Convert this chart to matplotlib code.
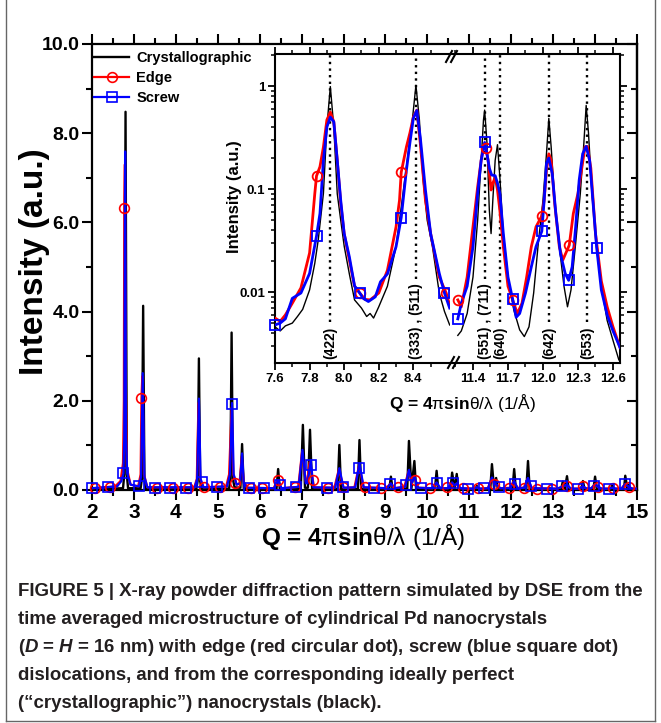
import numpy as np
import matplotlib
matplotlib.use("Agg")
import matplotlib.pyplot as plt
from matplotlib.lines import Line2D
from matplotlib.ticker import MultipleLocator, FixedLocator, FuncFormatter, NullFormatter, LogLocator

plt.rcParams['font.family'] = ['Liberation Sans', 'DejaVu Sans']
plt.rcParams['font.weight'] = 'bold'
plt.rcParams['mathtext.fontset'] = 'custom'
plt.rcParams['mathtext.rm'] = 'Liberation Sans:regular'
plt.rcParams['mathtext.it'] = 'Liberation Sans:italic:bold'
plt.rcParams['mathtext.bf'] = 'Liberation Sans:bold'

# ---------------- main pattern data ----------------
cryst_q = [2.00, 2.74, 2.77, 2.80, 2.83, 2.86, 3.16, 3.19, 3.22, 3.25, 3.28, 4.49, 4.52, 4.55, 4.58, 4.61,
           5.27, 5.30, 5.33, 5.36, 5.40, 5.54, 5.58, 5.62, 6.40, 6.44, 6.48, 6.98, 7.03, 7.08, 7.15, 7.20, 7.25,
           7.86, 7.90, 7.94, 8.34, 8.38, 8.42, 9.09, 9.13, 9.17, 9.52, 9.56, 9.62, 9.69, 9.73, 10.18, 10.22, 10.26,
           10.55, 10.59, 10.65, 10.70, 10.74, 11.15, 11.18, 11.21, 11.50, 11.54, 11.59, 11.64, 11.68, 12.03, 12.07,
           12.11, 12.36, 12.40, 12.44, 12.88, 12.92, 12.96, 13.19, 13.23, 13.28, 13.33, 13.37, 13.67, 13.71, 13.75,
           13.96, 14.00, 14.04, 14.08, 14.12, 14.37, 14.41, 14.45, 14.69, 14.72, 14.77, 14.80, 14.84, 15.00]
cryst_i = [0.02, 0.04, 0.35, 8.48, 0.35, 0.04, 0.04, 0.25, 4.13, 0.25, 0.03, 0.03, 0.20, 2.95, 0.20, 0.03,
           0.03, 0.25, 3.53, 0.25, 0.06, 0.05, 1.03, 0.04, 0.02, 0.47, 0.02, 0.03, 1.46, 0.05, 0.05, 1.35, 0.03,
           0.02, 1.01, 0.02, 0.02, 1.12, 0.02, 0.02, 0.30, 0.02, 0.03, 1.10, 0.04, 0.65, 0.03, 0.02, 0.43, 0.02,
           0.02, 0.39, 0.03, 0.36, 0.02, 0.02, 0.09, 0.02, 0.02, 0.58, 0.04, 0.27, 0.02, 0.02, 0.47,
           0.02, 0.02, 0.65, 0.02, 0.01, 0.05, 0.01, 0.02, 0.19, 0.03, 0.31, 0.02, 0.02, 0.20, 0.02,
           0.02, 0.30, 0.03, 0.10, 0.02, 0.02, 0.10, 0.02, 0.02, 0.32, 0.03, 0.12, 0.02, 0.02]

edge_q = [2.00, 2.55, 2.68, 2.74, 2.76, 2.77, 2.785, 2.80, 2.83, 2.92, 3.10, 3.16, 3.18, 3.20, 3.24, 3.32,
          4.44, 4.50, 4.54, 4.58, 4.66, 5.20, 5.27, 5.33, 5.37, 5.45, 5.52, 5.57, 5.62, 5.72, 6.33, 6.43, 6.52,
          6.92, 7.01, 7.10, 7.13, 7.19, 7.30, 7.78, 7.89, 8.00, 8.26, 8.37, 8.48, 9.01, 9.12, 9.21, 9.45, 9.55,
          9.63, 9.68, 9.78, 10.12, 10.21, 10.31, 10.49, 10.58, 10.65, 10.69, 10.79, 11.10, 11.17, 11.26, 11.44,
          11.53, 11.60, 11.65, 11.74, 11.97, 12.06, 12.15, 12.30, 12.39, 12.49, 13.10, 13.22, 13.32, 13.42,
          13.62, 13.70, 13.80, 13.91, 13.99, 14.08, 14.16, 14.32, 14.40, 14.50, 14.63, 14.71, 14.80, 14.89, 15.00]
edge_i = [0.04, 0.08, 0.20, 0.60, 2.00, 6.33, 7.30, 3.00, 0.50, 0.12, 0.08, 0.35, 2.06, 2.55, 0.35, 0.06,
          0.06, 0.25, 1.95, 0.25, 0.06, 0.08, 0.35, 1.85, 0.35, 0.12, 0.15, 0.75, 0.18, 0.05, 0.04, 0.22, 0.04,
          0.07, 0.85, 0.18, 0.18, 0.62, 0.06, 0.05, 0.47, 0.05, 0.06, 0.55, 0.06, 0.04, 0.14, 0.04, 0.07, 0.42,
          0.17, 0.30, 0.05, 0.04, 0.16, 0.04, 0.04, 0.16, 0.10, 0.14, 0.04, 0.03, 0.06, 0.03, 0.04,
          0.25, 0.13, 0.11, 0.04, 0.05, 0.20, 0.05, 0.05, 0.25, 0.04, 0.03, 0.08, 0.11, 0.03,
          0.03, 0.08, 0.03, 0.04, 0.12, 0.06, 0.03, 0.03, 0.05, 0.03, 0.03, 0.13, 0.07, 0.03, 0.03]

screw_q = [2.00, 2.60, 2.70, 2.75, 2.77, 2.79, 2.81, 2.84, 2.92, 3.12, 3.17, 3.21, 3.25, 3.32, 4.45, 4.51,
           4.55, 4.59, 4.66, 5.22, 5.29, 5.34, 5.38, 5.45, 5.53, 5.58, 5.62, 5.70, 6.35, 6.44, 6.52, 6.93, 7.02,
           7.10, 7.14, 7.22, 7.28, 7.80, 7.90, 8.00, 8.28, 8.38, 8.48, 9.03, 9.13, 9.21, 9.47, 9.56, 9.63, 9.69,
           9.78, 10.13, 10.22, 10.31, 10.50, 10.59, 10.65, 10.70, 10.79, 11.10, 11.18, 11.26, 11.45, 11.54, 11.60,
           11.65, 11.74, 11.98, 12.07, 12.15, 12.31, 12.40, 12.49, 13.10, 13.23, 13.33, 13.42, 13.62, 13.71, 13.80,
           13.91, 14.00, 14.08, 14.16, 14.32, 14.41, 14.50, 14.63, 14.72, 14.80, 14.89, 15.00]
screw_i = [0.04, 0.08, 0.20, 0.37, 1.20, 7.59, 1.20, 0.37, 0.12, 0.08, 0.30, 2.62, 0.30, 0.06, 0.06, 0.25,
           2.05, 0.25, 0.06, 0.08, 0.35, 1.95, 0.35, 0.12, 0.15, 0.82, 0.15, 0.05, 0.04, 0.22, 0.04, 0.07, 0.90,
           0.15, 0.15, 0.66, 0.06, 0.05, 0.49, 0.05, 0.06, 0.60, 0.06, 0.04, 0.15, 0.04, 0.07, 0.45, 0.15, 0.30,
           0.05, 0.04, 0.17, 0.04, 0.04, 0.17, 0.10, 0.15, 0.04, 0.03, 0.06, 0.03, 0.04, 0.28, 0.15,
           0.12, 0.04, 0.04, 0.20, 0.04, 0.05, 0.27, 0.04, 0.03, 0.08, 0.12, 0.03, 0.03, 0.08, 0.03,
           0.04, 0.13, 0.06, 0.03, 0.03, 0.05, 0.03, 0.03, 0.14, 0.07, 0.03, 0.03]

edge_mark_q = [2.06, 2.43, 2.77, 3.18, 3.55, 3.93, 4.30, 4.68, 5.05, 5.42, 5.79, 6.06, 6.43, 6.84, 7.27, 7.62,
               7.98, 8.52, 8.90, 9.30, 9.71, 10.07, 10.47, 10.84, 11.21, 11.58, 11.95, 12.30, 12.62, 12.97,
               13.33, 13.70, 14.06, 14.43, 14.80]
edge_mark_i = [0.05, 0.07, 6.33, 2.06, 0.05, 0.05, 0.05, 0.06, 0.06, 0.15, 0.05, 0.04, 0.22, 0.07, 0.22, 0.05,
               0.06, 0.06, 0.04, 0.06, 0.22, 0.05, 0.06, 0.05, 0.04, 0.14, 0.05, 0.05, 0.03, 0.03,
               0.10, 0.08, 0.06, 0.04, 0.07]
screw_mark_q = [2.00, 2.37, 2.75, 3.12, 3.50, 3.87, 4.24, 4.62, 4.99, 5.34, 5.74, 6.11, 6.49, 6.86, 7.23, 7.61,
                7.98, 8.36, 8.73, 9.11, 9.48, 9.85, 10.23, 10.60, 10.98, 11.35, 11.72, 12.10, 12.47, 12.85,
                13.22, 13.59, 13.97, 14.34, 14.72]
screw_mark_i = [0.04, 0.06, 0.37, 0.08, 0.04, 0.04, 0.05, 0.17, 0.06, 1.93, 0.05, 0.04, 0.11, 0.06, 0.56, 0.05,
                0.06, 0.49, 0.05, 0.14, 0.11, 0.05, 0.16, 0.16, 0.03, 0.04, 0.06, 0.14, 0.09, 0.03,
                0.08, 0.03, 0.10, 0.03, 0.14]

# ---------------- inset data (log scale) ----------------
in_cryst_q_lo = [7.60, 7.63, 7.66, 7.70, 7.73, 7.76, 7.80, 7.83, 7.85, 7.88, 7.90, 7.92, 7.94, 7.96, 7.98, 8.00,
                 8.03, 8.06, 8.10, 8.13, 8.15, 8.17, 8.20, 8.25, 8.30, 8.33, 8.36, 8.39, 8.415, 8.435, 8.455,
                 8.48, 8.51, 8.55, 8.58, 8.61]
in_cryst_i_lo = [0.0046, 0.0042, 0.0047, 0.0050, 0.0058, 0.0068, 0.0105, 0.019, 0.032, 0.091, 0.40, 0.99, 0.40,
                 0.09, 0.05, 0.028, 0.015, 0.0084, 0.0070, 0.0058, 0.0062, 0.0056, 0.0072, 0.0114, 0.0276,
                 0.067, 0.165, 0.40, 1.02, 0.47, 0.13, 0.05, 0.028, 0.0098, 0.0065, 0.0048]
in_edge_q_lo = [7.60, 7.63, 7.66, 7.70, 7.75, 7.80, 7.83, 7.84, 7.86, 7.88, 7.90, 7.92, 7.94, 7.96, 7.98, 8.00,
                8.03, 8.06, 8.09, 8.12, 8.15, 8.20, 8.25, 8.30, 8.32, 8.33, 8.36, 8.38, 8.40, 8.42, 8.44, 8.47,
                8.50, 8.55, 8.59, 8.61]
in_edge_i_lo = [0.0056, 0.0052, 0.0060, 0.0078, 0.011, 0.024, 0.09, 0.134, 0.165, 0.257, 0.47, 0.56, 0.45,
                0.19, 0.073, 0.037, 0.0205, 0.0114, 0.0098, 0.0085, 0.0084, 0.0098, 0.0163, 0.043, 0.078,
                0.146, 0.257, 0.35, 0.50, 0.585, 0.28, 0.078, 0.037, 0.014, 0.0098, 0.0075]
in_screw_q_lo = [7.60, 7.63, 7.66, 7.70, 7.75, 7.80, 7.84, 7.86, 7.88, 7.90, 7.92, 7.94, 7.96, 7.98, 8.00, 8.03,
                 8.06, 8.09, 8.11, 8.14, 8.18, 8.21, 8.25, 8.30, 8.33, 8.36, 8.38, 8.40, 8.42, 8.44, 8.47, 8.50,
                 8.55, 8.58, 8.61]
in_screw_i_lo = [0.0048, 0.0050, 0.0055, 0.0087, 0.0098, 0.0152, 0.035, 0.058, 0.19, 0.40, 0.50, 0.45, 0.19,
                 0.078, 0.037, 0.022, 0.0115, 0.0098, 0.0087, 0.0081, 0.0090, 0.0126, 0.015, 0.0276, 0.053,
                 0.153, 0.28, 0.486, 0.58, 0.32, 0.098, 0.037, 0.0152, 0.0098, 0.0070]

in_cryst_q_hi = [11.27, 11.30, 11.35, 11.40, 11.44, 11.47, 11.49, 11.50, 11.52, 11.54, 11.555, 11.57, 11.59,
                 11.61, 11.63, 11.66, 11.70, 11.75, 11.80, 11.84, 11.88, 11.92, 11.96, 12.00, 12.03, 12.05,
                 12.07, 12.10, 12.14, 12.18, 12.21, 12.24, 12.28, 12.32, 12.35, 12.37, 12.39, 12.42, 12.46,
                 12.50, 12.55, 12.60, 12.65]
in_cryst_i_hi = [0.0038, 0.0042, 0.0062, 0.014, 0.05, 0.19, 0.47, 0.585, 0.28, 0.0625, 0.037, 0.078, 0.19,
                 0.27, 0.132, 0.037, 0.014, 0.0067, 0.0043, 0.0037, 0.0046, 0.0098, 0.03, 0.078, 0.222, 0.486,
                 0.257, 0.078, 0.0276, 0.0114, 0.0072, 0.0105, 0.03, 0.091, 0.277, 0.65, 0.35, 0.091, 0.0276,
                 0.0114, 0.0053, 0.0034, 0.0022]
in_edge_q_hi = [11.27, 11.30, 11.35, 11.40, 11.44, 11.47, 11.49, 11.51, 11.53, 11.555, 11.57, 11.59, 11.61,
                11.63, 11.66, 11.70, 11.74, 11.78, 11.82, 11.86, 11.90, 11.94, 11.99, 12.01, 12.03, 12.05,
                12.07, 12.10, 12.14, 12.17, 12.225, 12.26, 12.30, 12.33, 12.36, 12.38, 12.41, 12.45, 12.50,
                12.55, 12.60, 12.66]
in_edge_i_hi = [0.0084, 0.0072, 0.014, 0.043, 0.105, 0.19, 0.257, 0.248, 0.19, 0.098, 0.114, 0.13, 0.098,
                0.0625, 0.0276, 0.0114, 0.0084, 0.0062, 0.0078, 0.014, 0.0276, 0.043, 0.055, 0.078, 0.153,
                0.22, 0.19, 0.073, 0.0276, 0.0205, 0.0285, 0.058, 0.091, 0.153, 0.257, 0.26, 0.16, 0.037,
                0.0128, 0.0072, 0.0046, 0.0029]
in_screw_q_hi = [11.27, 11.30, 11.35, 11.40, 11.44, 11.47, 11.50, 11.52, 11.54, 11.56, 11.59, 11.61, 11.63,
                 11.66, 11.70, 11.74, 11.77, 11.80, 11.85, 11.90, 11.94, 11.99, 12.01, 12.03, 12.05, 12.08,
                 12.11, 12.15, 12.19, 12.22, 12.25, 12.28, 12.31, 12.34, 12.37, 12.40, 12.46, 12.50, 12.55,
                 12.60, 12.66]
in_screw_i_hi = [0.0055, 0.0078, 0.0114, 0.0276, 0.091, 0.19, 0.284, 0.22, 0.16, 0.137, 0.135, 0.114, 0.091,
                 0.037, 0.014, 0.0085, 0.0057, 0.0062, 0.0098, 0.0176, 0.0276, 0.039, 0.078, 0.178, 0.20, 0.14,
                 0.058, 0.0235, 0.0152, 0.013, 0.0176, 0.043, 0.122, 0.22, 0.26, 0.19, 0.027, 0.0105, 0.006,
                 0.0042, 0.0029]

in_edge_mark_q = [7.84, 8.09, 8.33, 8.59, 11.27, 11.51, 11.74, 11.99, 12.225]
in_edge_mark_i = [0.134, 0.0098, 0.146, 0.0098, 0.0084, 0.248, 0.0084, 0.055, 0.0285]
in_screw_mark_q = [7.60, 7.84, 8.09, 8.33, 8.58, 11.27, 11.50, 11.74, 11.99, 12.22, 12.46]
in_screw_mark_i = [0.0048, 0.035, 0.0098, 0.053, 0.0098, 0.0055, 0.284, 0.0085, 0.039, 0.013, 0.027]

refl_q = [7.92, 8.415, 11.503, 11.631, 12.051, 12.38]
refl_labels = ["(422)", "(333) , (511)", "(551) , (711)", "(640)", "(642)", "(553)"]

legend_labels = ["Crystallographic", "Edge", "Screw"]

x_label = "Q = 4$\\mathrm{\u03c0}$sin$\\mathrm{\u03b8/\u03bb\\ (1/\u00c5)}$"
y_label = "Intensity (a.u.)"

caption_lines = [
    "FIGURE 5 | X-ray powder diffraction pattern simulated by DSE from the",
    "time averaged microstructure of cylindrical Pd nanocrystals",
    "($\\mathit{D}$ = $\\mathit{H}$ = 16 nm) with edge (red circular dot), screw (blue square dot)",
    "dislocations, and from the corresponding ideally perfect",
    "(\u201ccrystallographic\u201d) nanocrystals (black).",
]

# ---------------- figure ----------------
W, H = 661, 723
fig = plt.figure(figsize=(W / 100, H / 100), dpi=100)


def fx(p):
    return p / W


def fy(p):
    return 1 - p / H


C_BLACK, C_RED, C_BLUE = "#000000", "#ff0000", "#0000ff"

# main axes
ax = fig.add_axes([fx(92), fy(490), fx(637) - fx(92), fy(44) - fy(490)])
ax.plot(cryst_q, cryst_i, color=C_BLACK, lw=1.7, zorder=2)
ax.plot(edge_q, edge_i, color=C_RED, lw=1.6, zorder=3)
ax.plot(screw_q, screw_i, color=C_BLUE, lw=1.6, zorder=4)
ax.plot(edge_mark_q, edge_mark_i, ls="none", marker="o", ms=7, mfc="none", mec=C_RED, mew=1.2,
        zorder=5, clip_on=False)
ax.plot(screw_mark_q, screw_mark_i, ls="none", marker="s", ms=6.5, mfc="none", mec=C_BLUE, mew=1.2,
        zorder=6, clip_on=False)
ax.set_xlim(2, 15)
ax.set_ylim(0, 10)
ax.xaxis.set_major_locator(MultipleLocator(1))
ax.xaxis.set_minor_locator(MultipleLocator(0.5))
ax.yaxis.set_major_locator(MultipleLocator(2))
ax.yaxis.set_minor_locator(MultipleLocator(1))
ax.yaxis.set_major_formatter(FuncFormatter(lambda v, p: f"{v:.1f}"))
for s in ax.spines.values():
    s.set_linewidth(1.6)
ax.tick_params(which="major", direction="out", length=7, width=1.5, top=True, right=False)
ax.tick_params(which="minor", direction="out", length=4, width=1.5, top=True, right=False)
ax.tick_params(axis="x", labelsize=15, pad=2)
ax.tick_params(axis="y", labelsize=14, pad=2)
sec = ax.secondary_yaxis("right")
sec.yaxis.set_major_locator(MultipleLocator(2))
sec.yaxis.set_minor_locator(MultipleLocator(1))
sec.tick_params(which="major", direction="in", length=7, width=1.5, labelright=False)
sec.tick_params(which="minor", direction="in", length=4, width=1.5)
sec.spines["right"].set_linewidth(1.6)

handles = [Line2D([], [], color=C_BLACK, lw=1.7),
           Line2D([], [], color=C_RED, lw=1.6, marker="o", ms=7, mfc="none", mec=C_RED, mew=1.2),
           Line2D([], [], color=C_BLUE, lw=1.6, marker="s", ms=6.5, mfc="none", mec=C_BLUE, mew=1.2)]
ax.legend(handles, legend_labels, loc="upper left", bbox_to_anchor=(0.004, 0.984), frameon=False,
          prop=dict(weight="bold", size=10.5), handlelength=2.4, handletextpad=0.5,
          labelspacing=0.42, borderpad=0, borderaxespad=0, numpoints=1)

fig.text(fx(35), fy(262), y_label, rotation=90, ha="center", va="center", fontsize=24,
         fontweight="bold")
fig.text(fx(363), fy(537), x_label, ha="center", va="center", fontsize=17.5, fontweight="bold")

# inset axes (broken x axis)
in_bot, in_top = 363, 54
axL = fig.add_axes([fx(275), fy(in_bot), fx(450) - fx(275), fy(in_top) - fy(in_bot)])
axR = fig.add_axes([fx(450), fy(in_bot), fx(620) - fx(450), fy(in_top) - fy(in_bot)])
for a in (axL, axR):
    a.set_yscale("log")
    a.set_ylim(0.00205, 2.05)
    for s in a.spines.values():
        s.set_linewidth(1.5)
axL.set_xlim(7.6, 8.612)
axR.set_xlim(11.203, 12.66)
axL.spines["right"].set_visible(False)
axR.spines["left"].set_visible(False)

axL.plot(in_cryst_q_lo, in_cryst_i_lo, color=C_BLACK, lw=1.0, zorder=2)
axL.plot(in_edge_q_lo, in_edge_i_lo, color=C_RED, lw=2.0, zorder=3)
axL.plot(in_screw_q_lo, in_screw_i_lo, color=C_BLUE, lw=2.0, zorder=4)
axR.plot(in_cryst_q_hi, in_cryst_i_hi, color=C_BLACK, lw=1.0, zorder=2)
axR.plot(in_edge_q_hi, in_edge_i_hi, color=C_RED, lw=2.0, zorder=3)
axR.plot(in_screw_q_hi, in_screw_i_hi, color=C_BLUE, lw=2.0, zorder=4)

for a in (axL, axR):
    lo, hi = a.get_xlim()
    eq = [q for q in in_edge_mark_q if lo <= q <= hi]
    ei = [v for q, v in zip(in_edge_mark_q, in_edge_mark_i) if lo <= q <= hi]
    sq = [q for q in in_screw_mark_q if lo <= q <= hi]
    si = [v for q, v in zip(in_screw_mark_q, in_screw_mark_i) if lo <= q <= hi]
    a.plot(eq, ei, ls="none", marker="o", ms=7, mfc="none", mec=C_RED, mew=1.3, zorder=5, clip_on=False)
    a.plot(sq, si, ls="none", marker="s", ms=6.5, mfc="none", mec=C_BLUE, mew=1.3, zorder=6, clip_on=False)

axL.xaxis.set_major_locator(FixedLocator([7.6, 7.8, 8.0, 8.2, 8.4]))
axL.xaxis.set_minor_locator(FixedLocator([7.7, 7.9, 8.1, 8.3, 8.5]))
axR.xaxis.set_major_locator(FixedLocator([11.4, 11.7, 12.0, 12.3, 12.6]))
axR.xaxis.set_minor_locator(FixedLocator([11.25, 11.55, 11.85, 12.15, 12.45]))
for a in (axL, axR):
    a.xaxis.set_major_formatter(FuncFormatter(lambda v, p: f"{v:.1f}"))
    a.yaxis.set_major_locator(LogLocator(base=10, numticks=10))
    a.yaxis.set_minor_locator(LogLocator(base=10, subs=np.arange(2, 10), numticks=20))
    a.yaxis.set_minor_formatter(NullFormatter())
    a.tick_params(which="major", direction="out", length=5, width=1.3, top=True, labelsize=9.5, pad=2)
    a.tick_params(which="minor", direction="out", length=3, width=1.1, top=True)
axL.yaxis.set_major_formatter(FuncFormatter(lambda v, p: {1.0: "1", 0.1: "0.1", 0.01: "0.01"}.get(round(v, 4), "")))
axR.yaxis.tick_right()
axR.tick_params(axis="y", which="both", labelright=False, left=False)

# reflection markers
renderer = fig.canvas.get_renderer()
ax_h_px = in_bot - in_top
for q, lab in zip(refl_q, refl_labels):
    a = axL if q < 10 else axR
    t = a.text(q, 0.014, lab, rotation=90, ha="center", va="bottom", fontsize=10, fontweight="bold",
               transform=a.get_xaxis_transform())
    h = t.get_window_extent(renderer).height
    ymin = 0.014 + (h + 4) / ax_h_px
    a.axvline(q, ymin=ymin, ymax=1, color=C_BLACK, ls=(0, (1, 1.8)), lw=1.7, zorder=1)

# break marks
for (x0, y0) in [(446, 62), (451, 62), (448, 368), (453, 368)]:
    fig.add_artist(Line2D([fx(x0), fx(x0 + 6)], [fy(y0), fy(y0 - 11)], transform=fig.transFigure,
                          color=C_BLACK, lw=1.5))

fig.text(fx(234), fy(197), y_label, rotation=90, ha="center", va="center", fontsize=12,
         fontweight="bold")
fig.text(fx(462), fy(403), x_label, ha="center", va="center", fontsize=12.5, fontweight="bold")

# caption
probe = fig.text(0, 0, caption_lines[0], fontsize=10, fontweight="bold")
wprobe = probe.get_window_extent(renderer).width
probe.remove()
cap_size = 10 * 627 / wprobe
cap_y = [591, 619, 647, 675, 703]
for line, yc in zip(caption_lines, cap_y):
    fig.text(fx(18), fy(yc), line, ha="left", va="center", fontsize=cap_size, fontweight="bold",
             color="#231f20")

# frame around figure + caption
for xs, ys in [([6, 6], [0, 721]), ([655, 655], [0, 721]), ([6, 655], [721, 721])]:
    fig.add_artist(Line2D([fx(v) for v in xs], [fy(v) for v in ys], transform=fig.transFigure,
                          color="#666666", lw=1.0))

fig.savefig("out.png", dpi=100)
